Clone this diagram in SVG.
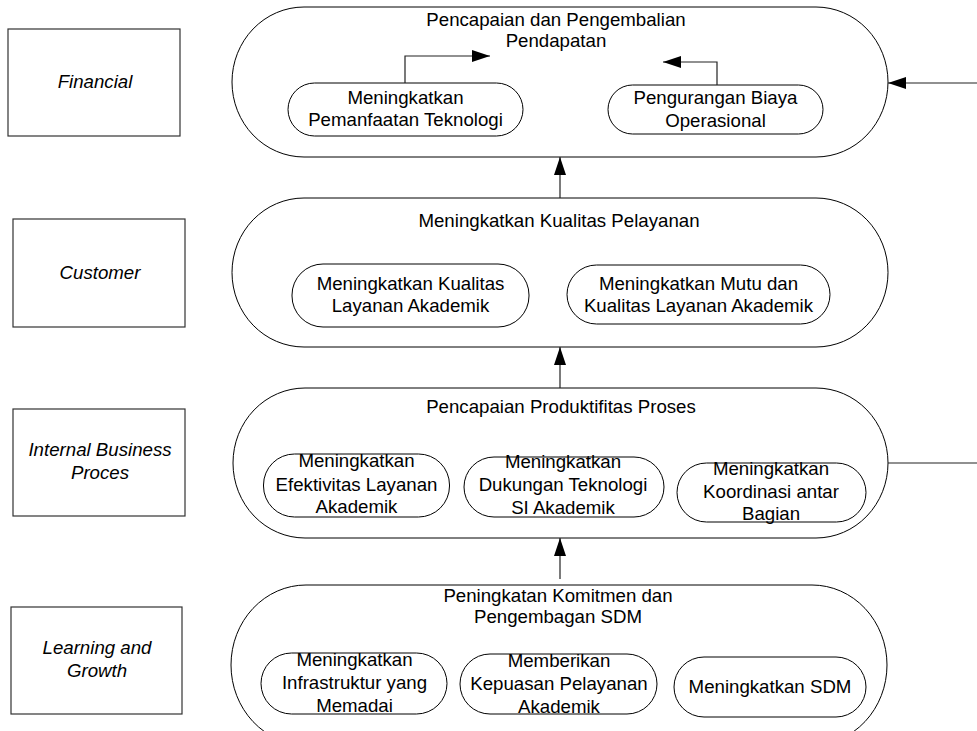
<svg xmlns="http://www.w3.org/2000/svg" width="977" height="731" viewBox="0 0 977 731">
<style>
  text { font-family: "Liberation Sans", Arial, sans-serif; font-size: 18.67px; fill: #000; text-anchor: middle; }
  .persp text { font-style: italic; }
  .box { fill: #fff; stroke: #333; stroke-width: 1.2; }
  .outer { fill: #fff; stroke: #000; stroke-width: 1; }
  .inner { fill: #fff; stroke: #000; stroke-width: 1; }
  .conn { fill: none; stroke: #222; stroke-width: 1.2; }
</style>
<defs>
  <marker id="arr" markerUnits="userSpaceOnUse" markerWidth="18" markerHeight="12" refX="18" refY="6" orient="auto">
    <path d="M0,0 L18,6 L0,12 Z" fill="#000"/>
  </marker>
</defs>
<rect width="977" height="731" fill="#fff"/>

<!-- Perspective boxes -->
<g id="financial" class="persp">
  <rect class="box" x="8" y="29" width="172" height="107"/>
  <text x="95" y="88">Financial</text>
</g>
<g id="customer" class="persp">
  <rect class="box" x="13" y="219" width="172" height="108"/>
  <text x="100" y="279">Customer</text>
</g>
<g id="internal" class="persp">
  <rect class="box" x="13" y="409" width="172" height="107"/>
  <text x="100" y="456">Internal Business</text>
  <text x="100" y="479">Proces</text>
</g>
<g id="learning" class="persp">
  <rect class="box" x="11" y="607" width="171" height="107"/>
  <text x="97" y="654">Learning and</text>
  <text x="97" y="677">Growth</text>
</g>

<!-- Financial row -->
<g id="fin-main">
  <rect class="outer" x="232" y="7" width="656" height="150" rx="72" ry="75"/>
  <text x="556" y="25.5">Pencapaian dan Pengembalian</text>
  <text x="556" y="47">Pendapatan</text>
</g>
<g id="fin-1">
  <rect class="inner" x="288" y="83" width="235" height="53" rx="26.5" ry="26.5"/>
  <text x="405.5" y="104">Meningkatkan</text>
  <text x="405.5" y="126">Pemanfaatan Teknologi</text>
</g>
<g id="fin-2">
  <rect class="inner" x="608" y="85" width="215" height="49" rx="24.5" ry="24.5"/>
  <text x="715.5" y="104">Pengurangan Biaya</text>
  <text x="715.5" y="127">Operasional</text>
</g>

<!-- Customer row -->
<g id="cus-main">
  <rect class="outer" x="232" y="198" width="656" height="149" rx="72" ry="74.5"/>
  <text x="559" y="227">Meningkatkan Kualitas Pelayanan</text>
</g>
<g id="cus-1">
  <rect class="inner" x="292" y="264" width="237" height="63" rx="31" ry="31"/>
  <text x="410.5" y="290">Meningkatkan Kualitas</text>
  <text x="410.5" y="312">Layanan Akademik</text>
</g>
<g id="cus-2">
  <rect class="inner" x="567" y="265" width="263" height="59" rx="29.5" ry="29.5"/>
  <text x="698.5" y="290">Meningkatkan Mutu dan</text>
  <text x="698.5" y="312">Kualitas Layanan Akademik</text>
</g>

<!-- Internal row -->
<g id="int-main">
  <rect class="outer" x="233" y="388" width="655" height="150" rx="72" ry="75"/>
  <text x="561" y="413">Pencapaian Produktifitas Proses</text>
</g>
<g id="int-1">
  <rect class="inner" x="263.5" y="454" width="186" height="63" rx="31" ry="31"/>
  <text x="356.5" y="467">Meningkatkan</text>
  <text x="356.5" y="491">Efektivitas Layanan</text>
  <text x="356.5" y="513">Akademik</text>
</g>
<g id="int-2">
  <rect class="inner" x="464" y="457" width="200" height="60" rx="30" ry="30"/>
  <text x="563" y="468">Meningkatkan</text>
  <text x="563" y="491">Dukungan Teknologi</text>
  <text x="563" y="514">SI Akademik</text>
</g>
<g id="int-3">
  <rect class="inner" x="677" y="463" width="189" height="59" rx="29.5" ry="29.5"/>
  <text x="771" y="475">Meningkatkan</text>
  <text x="771" y="498">Koordinasi antar</text>
  <text x="771" y="520">Bagian</text>
</g>

<!-- Learning row -->
<g id="lrn-main">
  <rect class="outer" x="231" y="585" width="656" height="160" rx="75" ry="80"/>
  <text x="558" y="602">Peningkatan Komitmen dan</text>
  <text x="558" y="623">Pengembagan SDM</text>
</g>
<g id="lrn-1">
  <rect class="inner" x="261" y="653" width="186" height="61" rx="30.5" ry="30.5"/>
  <text x="354.5" y="666">Meningkatkan</text>
  <text x="354.5" y="689">Infrastruktur yang</text>
  <text x="354.5" y="712">Memadai</text>
</g>
<g id="lrn-2">
  <rect class="inner" x="460" y="654" width="197" height="60" rx="30" ry="30"/>
  <text x="559" y="667">Memberikan</text>
  <text x="559" y="690">Kepuasan Pelayanan</text>
  <text x="559" y="713">Akademik</text>
</g>
<g id="lrn-3">
  <rect class="inner" x="674" y="657" width="192" height="60" rx="30" ry="30"/>
  <text x="770" y="693">Meningkatkan SDM</text>
</g>

<!-- Connectors -->
<g id="connectors">
  <path class="conn" d="M560,198 V157" marker-end="url(#arr)"/>
  <path class="conn" d="M560,388 V347" marker-end="url(#arr)"/>
  <path class="conn" d="M560,579 V538" marker-end="url(#arr)"/>
  <path class="conn" d="M977,83 H888" marker-end="url(#arr)"/>
  <path class="conn" d="M888,463 H977"/>
  <path class="conn" d="M405,83 V56 H490" marker-end="url(#arr)"/>
  <path class="conn" d="M717,85 V62 H663" marker-end="url(#arr)"/>
</g>
</svg>
